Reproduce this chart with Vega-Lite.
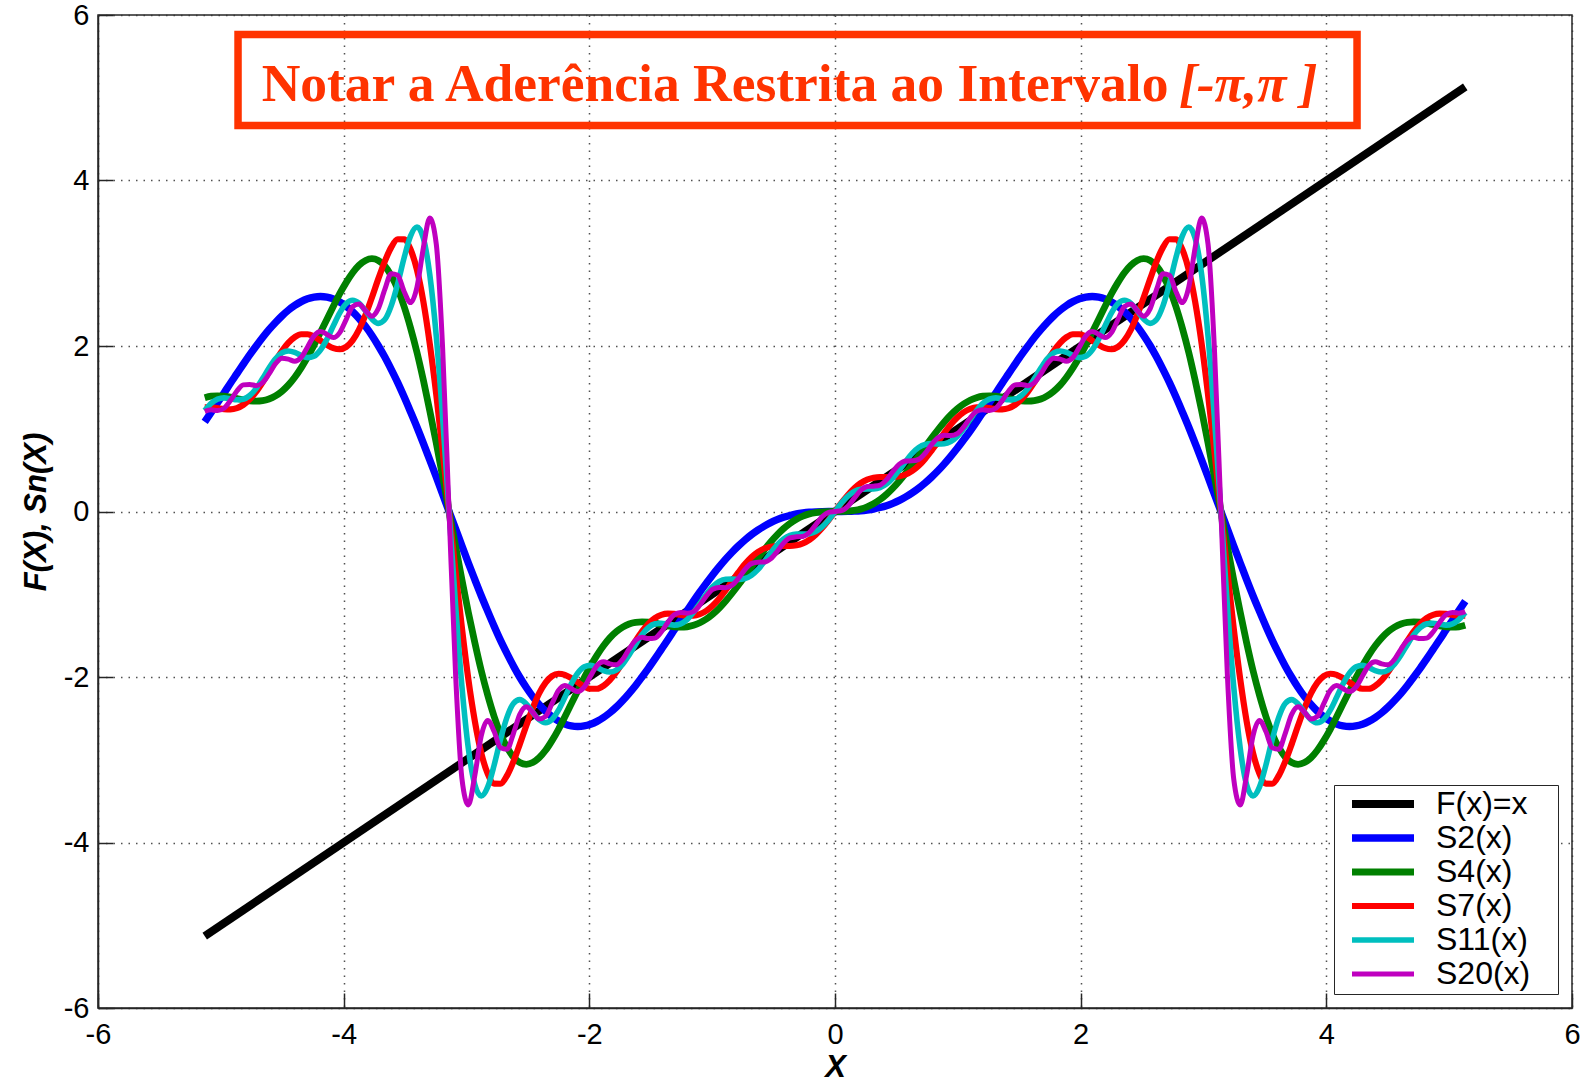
{
"$schema":"https://vega.github.io/schema/vega-lite/v6.json",
"width":1474,"height":993,
"autosize":{"type":"none"},
"padding":{"left":98,"top":15,"right":9,"bottom":75},
"background":"#ffffff",
"config":{
"view":{"stroke":"#262626","strokeWidth":1.5},
"axis":{"labelFont":"Liberation Sans","labelFontSize":29,"labelColor":"#000000","titleFont":"Liberation Sans","titleFontSize":31,"titleFontStyle":"italic","titleFontWeight":"bold","titleColor":"#000000","domainColor":"#262626","domainWidth":1.5,"tickColor":"#262626","tickWidth":1.5,"tickSize":-15,"gridColor":"#333333","gridDash":[1.5,6],"gridWidth":1.5,"gridOpacity":0.85,"labelFlush":false,"labelOverlap":false},
"legend":{"orient":"bottom-right","offset":14,"padding":4,"strokeColor":"#262626","fillColor":"#ffffff","symbolType":"stroke","symbolSize":3844,"labelFont":"Liberation Sans","labelFontSize":32,"labelColor":"#000000","clipHeight":30,"rowPadding":2,"symbolOffset":10,"labelOffset":18}
},
"datasets":{
"f":[{"series":"F","x":-5.131,"y":-5.131},{"series":"F","x":5.131,"y":5.131}],
"s":[
{"x":-5.131,"S2":1.084,"S4":1.375,"S7":1.259,"S11":1.219,"S20":1.21},
{"x":-5.079,"S2":1.198,"S4":1.393,"S7":1.259,"S11":1.306,"S20":1.229},
{"x":-5.027,"S2":1.314,"S4":1.398,"S7":1.249,"S11":1.357,"S20":1.22},
{"x":-4.974,"S2":1.432,"S4":1.393,"S7":1.238,"S11":1.373,"S20":1.248},
{"x":-4.922,"S2":1.55,"S4":1.382,"S7":1.235,"S11":1.363,"S20":1.34},
{"x":-4.869,"S2":1.666,"S4":1.366,"S7":1.25,"S11":1.351,"S20":1.456},
{"x":-4.817,"S2":1.781,"S4":1.35,"S7":1.289,"S11":1.358,"S20":1.53},
{"x":-4.765,"S2":1.893,"S4":1.338,"S7":1.355,"S11":1.402,"S20":1.536},
{"x":-4.712,"S2":2.0,"S4":1.333,"S7":1.448,"S11":1.488,"S20":1.521},
{"x":-4.66,"S2":2.102,"S4":1.339,"S7":1.562,"S11":1.606,"S20":1.556},
{"x":-4.608,"S2":2.197,"S4":1.359,"S7":1.689,"S11":1.734,"S20":1.662},
{"x":-4.555,"S2":2.284,"S4":1.397,"S7":1.819,"S11":1.845,"S20":1.786},
{"x":-4.503,"S2":2.363,"S4":1.452,"S7":1.939,"S11":1.917,"S20":1.852},
{"x":-4.451,"S2":2.432,"S4":1.527,"S7":2.038,"S11":1.94,"S20":1.841},
{"x":-4.398,"S2":2.49,"S4":1.623,"S7":2.107,"S11":1.922,"S20":1.817},
{"x":-4.346,"S2":2.536,"S4":1.736,"S7":2.142,"S11":1.885,"S20":1.861},
{"x":-4.294,"S2":2.57,"S4":1.867,"S7":2.142,"S11":1.86,"S20":1.988},
{"x":-4.241,"S2":2.591,"S4":2.011,"S7":2.114,"S11":1.877,"S20":2.123},
{"x":-4.189,"S2":2.598,"S4":2.165,"S7":2.066,"S11":1.952,"S20":2.176},
{"x":-4.136,"S2":2.591,"S4":2.324,"S7":2.014,"S11":2.083,"S20":2.14},
{"x":-4.084,"S2":2.569,"S4":2.481,"S7":1.974,"S11":2.245,"S20":2.102},
{"x":-4.032,"S2":2.532,"S4":2.632,"S7":1.961,"S11":2.401,"S20":2.162},
{"x":-3.979,"S2":2.481,"S4":2.769,"S7":1.989,"S11":2.513,"S20":2.323},
{"x":-3.927,"S2":2.414,"S4":2.886,"S7":2.068,"S11":2.552,"S20":2.476},
{"x":-3.875,"S2":2.333,"S4":2.976,"S7":2.198,"S11":2.516,"S20":2.508},
{"x":-3.822,"S2":2.237,"S4":3.034,"S7":2.376,"S11":2.425,"S20":2.425},
{"x":-3.77,"S2":2.127,"S4":3.055,"S7":2.587,"S11":2.326,"S20":2.361},
{"x":-3.718,"S2":2.003,"S4":3.033,"S7":2.811,"S11":2.274,"S20":2.452},
{"x":-3.665,"S2":1.866,"S4":2.966,"S7":3.023,"S11":2.32,"S20":2.683},
{"x":-3.613,"S2":1.717,"S4":2.851,"S7":3.192,"S11":2.485,"S20":2.874},
{"x":-3.56,"S2":1.557,"S4":2.688,"S7":3.29,"S11":2.753,"S20":2.856},
{"x":-3.508,"S2":1.386,"S4":2.477,"S7":3.289,"S11":3.065,"S20":2.658},
{"x":-3.456,"S2":1.206,"S4":2.221,"S7":3.169,"S11":3.328,"S20":2.525},
{"x":-3.403,"S2":1.018,"S4":1.922,"S7":2.918,"S11":3.438,"S20":2.712},
{"x":-3.351,"S2":0.823,"S4":1.586,"S7":2.534,"S11":3.302,"S20":3.188},
{"x":-3.299,"S2":0.622,"S4":1.218,"S7":2.026,"S11":2.862,"S20":3.546},
{"x":-3.246,"S2":0.417,"S4":0.826,"S7":1.413,"S11":2.118,"S20":3.231},
{"x":-3.194,"S2":0.209,"S4":0.418,"S7":0.726,"S11":1.128,"S20":1.962},
{"x":-3.142,"S2":0,"S4":0,"S7":0,"S11":0,"S20":0},
{"x":-3.089,"S2":-0.209,"S4":-0.418,"S7":-0.726,"S11":-1.128,"S20":-1.962},
{"x":-3.037,"S2":-0.417,"S4":-0.826,"S7":-1.413,"S11":-2.118,"S20":-3.231},
{"x":-2.985,"S2":-0.622,"S4":-1.218,"S7":-2.026,"S11":-2.862,"S20":-3.546},
{"x":-2.932,"S2":-0.823,"S4":-1.586,"S7":-2.534,"S11":-3.302,"S20":-3.188},
{"x":-2.88,"S2":-1.018,"S4":-1.922,"S7":-2.918,"S11":-3.438,"S20":-2.712},
{"x":-2.827,"S2":-1.206,"S4":-2.221,"S7":-3.169,"S11":-3.328,"S20":-2.525},
{"x":-2.775,"S2":-1.386,"S4":-2.477,"S7":-3.289,"S11":-3.065,"S20":-2.658},
{"x":-2.723,"S2":-1.557,"S4":-2.688,"S7":-3.29,"S11":-2.753,"S20":-2.856},
{"x":-2.67,"S2":-1.717,"S4":-2.851,"S7":-3.192,"S11":-2.485,"S20":-2.874},
{"x":-2.618,"S2":-1.866,"S4":-2.966,"S7":-3.023,"S11":-2.32,"S20":-2.683},
{"x":-2.566,"S2":-2.003,"S4":-3.033,"S7":-2.811,"S11":-2.274,"S20":-2.452},
{"x":-2.513,"S2":-2.127,"S4":-3.055,"S7":-2.587,"S11":-2.326,"S20":-2.361},
{"x":-2.461,"S2":-2.237,"S4":-3.034,"S7":-2.376,"S11":-2.425,"S20":-2.425},
{"x":-2.409,"S2":-2.333,"S4":-2.976,"S7":-2.198,"S11":-2.516,"S20":-2.508},
{"x":-2.356,"S2":-2.414,"S4":-2.886,"S7":-2.068,"S11":-2.552,"S20":-2.476},
{"x":-2.304,"S2":-2.481,"S4":-2.769,"S7":-1.989,"S11":-2.513,"S20":-2.323},
{"x":-2.251,"S2":-2.532,"S4":-2.632,"S7":-1.961,"S11":-2.401,"S20":-2.162},
{"x":-2.199,"S2":-2.569,"S4":-2.481,"S7":-1.974,"S11":-2.245,"S20":-2.102},
{"x":-2.147,"S2":-2.591,"S4":-2.324,"S7":-2.014,"S11":-2.083,"S20":-2.14},
{"x":-2.094,"S2":-2.598,"S4":-2.165,"S7":-2.066,"S11":-1.952,"S20":-2.176},
{"x":-2.042,"S2":-2.591,"S4":-2.011,"S7":-2.114,"S11":-1.877,"S20":-2.123},
{"x":-1.99,"S2":-2.57,"S4":-1.867,"S7":-2.142,"S11":-1.86,"S20":-1.988},
{"x":-1.937,"S2":-2.536,"S4":-1.736,"S7":-2.142,"S11":-1.885,"S20":-1.861},
{"x":-1.885,"S2":-2.49,"S4":-1.623,"S7":-2.107,"S11":-1.922,"S20":-1.817},
{"x":-1.833,"S2":-2.432,"S4":-1.527,"S7":-2.038,"S11":-1.94,"S20":-1.841},
{"x":-1.78,"S2":-2.363,"S4":-1.452,"S7":-1.939,"S11":-1.917,"S20":-1.852},
{"x":-1.728,"S2":-2.284,"S4":-1.397,"S7":-1.819,"S11":-1.845,"S20":-1.786},
{"x":-1.676,"S2":-2.197,"S4":-1.359,"S7":-1.689,"S11":-1.734,"S20":-1.662},
{"x":-1.623,"S2":-2.102,"S4":-1.339,"S7":-1.562,"S11":-1.606,"S20":-1.556},
{"x":-1.571,"S2":-2.0,"S4":-1.333,"S7":-1.448,"S11":-1.488,"S20":-1.521},
{"x":-1.518,"S2":-1.893,"S4":-1.338,"S7":-1.355,"S11":-1.402,"S20":-1.536},
{"x":-1.466,"S2":-1.781,"S4":-1.35,"S7":-1.289,"S11":-1.358,"S20":-1.53},
{"x":-1.414,"S2":-1.666,"S4":-1.366,"S7":-1.25,"S11":-1.351,"S20":-1.456},
{"x":-1.361,"S2":-1.55,"S4":-1.382,"S7":-1.235,"S11":-1.363,"S20":-1.34},
{"x":-1.309,"S2":-1.432,"S4":-1.393,"S7":-1.238,"S11":-1.373,"S20":-1.248},
{"x":-1.257,"S2":-1.314,"S4":-1.398,"S7":-1.249,"S11":-1.357,"S20":-1.22},
{"x":-1.204,"S2":-1.198,"S4":-1.393,"S7":-1.259,"S11":-1.306,"S20":-1.229},
{"x":-1.152,"S2":-1.084,"S4":-1.375,"S7":-1.259,"S11":-1.219,"S20":-1.21},
{"x":-1.1,"S2":-0.973,"S4":-1.344,"S7":-1.241,"S11":-1.11,"S20":-1.13},
{"x":-1.047,"S2":-0.866,"S4":-1.299,"S7":-1.2,"S11":-0.999,"S20":-1.02},
{"x":-0.995,"S2":-0.764,"S4":-1.24,"S7":-1.136,"S11":-0.907,"S20":-0.939},
{"x":-0.942,"S2":-0.667,"S4":-1.167,"S7":-1.051,"S11":-0.846,"S20":-0.917},
{"x":-0.89,"S2":-0.576,"S4":-1.082,"S7":-0.951,"S11":-0.819,"S20":-0.92},
{"x":-0.838,"S2":-0.492,"S4":-0.988,"S7":-0.842,"S11":-0.816,"S20":-0.891},
{"x":-0.785,"S2":-0.414,"S4":-0.886,"S7":-0.734,"S11":-0.82,"S20":-0.806},
{"x":-0.733,"S2":-0.344,"S4":-0.779,"S7":-0.635,"S11":-0.81,"S20":-0.701},
{"x":-0.681,"S2":-0.281,"S4":-0.671,"S7":-0.552,"S11":-0.773,"S20":-0.63},
{"x":-0.628,"S2":-0.225,"S4":-0.565,"S7":-0.489,"S11":-0.703,"S20":-0.612},
{"x":-0.576,"S2":-0.176,"S4":-0.463,"S7":-0.447,"S11":-0.607,"S20":-0.611},
{"x":-0.524,"S2":-0.134,"S4":-0.368,"S7":-0.425,"S11":-0.501,"S20":-0.572},
{"x":-0.471,"S2":-0.099,"S4":-0.282,"S7":-0.417,"S11":-0.404,"S20":-0.483},
{"x":-0.419,"S2":-0.07,"S4":-0.207,"S7":-0.417,"S11":-0.331,"S20":-0.382},
{"x":-0.367,"S2":-0.048,"S4":-0.144,"S7":-0.417,"S11":-0.289,"S20":-0.32},
{"x":-0.314,"S2":-0.03,"S4":-0.094,"S7":-0.408,"S11":-0.274,"S20":-0.306},
{"x":-0.262,"S2":-0.018,"S4":-0.056,"S7":-0.385,"S11":-0.273,"S20":-0.301},
{"x":-0.209,"S2":-0.009,"S4":-0.029,"S7":-0.343,"S11":-0.268,"S20":-0.254},
{"x":-0.157,"S2":-0.004,"S4":-0.013,"S7":-0.28,"S11":-0.242,"S20":-0.161},
{"x":-0.105,"S2":-0.001,"S4":-0.004,"S7":-0.199,"S11":-0.186,"S20":-0.064},
{"x":-0.052,"S2":0,"S4":-0.001,"S7":-0.103,"S11":-0.102,"S20":-0.01},
{"x":0,"S2":0,"S4":0,"S7":0,"S11":0,"S20":0},
{"x":0.052,"S2":0,"S4":0.001,"S7":0.103,"S11":0.102,"S20":0.01},
{"x":0.105,"S2":0.001,"S4":0.004,"S7":0.199,"S11":0.186,"S20":0.064},
{"x":0.157,"S2":0.004,"S4":0.013,"S7":0.28,"S11":0.242,"S20":0.161},
{"x":0.209,"S2":0.009,"S4":0.029,"S7":0.343,"S11":0.268,"S20":0.254},
{"x":0.262,"S2":0.018,"S4":0.056,"S7":0.385,"S11":0.273,"S20":0.301},
{"x":0.314,"S2":0.03,"S4":0.094,"S7":0.408,"S11":0.274,"S20":0.306},
{"x":0.367,"S2":0.048,"S4":0.144,"S7":0.417,"S11":0.289,"S20":0.32},
{"x":0.419,"S2":0.07,"S4":0.207,"S7":0.417,"S11":0.331,"S20":0.382},
{"x":0.471,"S2":0.099,"S4":0.282,"S7":0.417,"S11":0.404,"S20":0.483},
{"x":0.524,"S2":0.134,"S4":0.368,"S7":0.425,"S11":0.501,"S20":0.572},
{"x":0.576,"S2":0.176,"S4":0.463,"S7":0.447,"S11":0.607,"S20":0.611},
{"x":0.628,"S2":0.225,"S4":0.565,"S7":0.489,"S11":0.703,"S20":0.612},
{"x":0.681,"S2":0.281,"S4":0.671,"S7":0.552,"S11":0.773,"S20":0.63},
{"x":0.733,"S2":0.344,"S4":0.779,"S7":0.635,"S11":0.81,"S20":0.701},
{"x":0.785,"S2":0.414,"S4":0.886,"S7":0.734,"S11":0.82,"S20":0.806},
{"x":0.838,"S2":0.492,"S4":0.988,"S7":0.842,"S11":0.816,"S20":0.891},
{"x":0.89,"S2":0.576,"S4":1.082,"S7":0.951,"S11":0.819,"S20":0.92},
{"x":0.942,"S2":0.667,"S4":1.167,"S7":1.051,"S11":0.846,"S20":0.917},
{"x":0.995,"S2":0.764,"S4":1.24,"S7":1.136,"S11":0.907,"S20":0.939},
{"x":1.047,"S2":0.866,"S4":1.299,"S7":1.2,"S11":0.999,"S20":1.02},
{"x":1.1,"S2":0.973,"S4":1.344,"S7":1.241,"S11":1.11,"S20":1.13},
{"x":1.152,"S2":1.084,"S4":1.375,"S7":1.259,"S11":1.219,"S20":1.21},
{"x":1.204,"S2":1.198,"S4":1.393,"S7":1.259,"S11":1.306,"S20":1.229},
{"x":1.257,"S2":1.314,"S4":1.398,"S7":1.249,"S11":1.357,"S20":1.22},
{"x":1.309,"S2":1.432,"S4":1.393,"S7":1.238,"S11":1.373,"S20":1.248},
{"x":1.361,"S2":1.55,"S4":1.382,"S7":1.235,"S11":1.363,"S20":1.34},
{"x":1.414,"S2":1.666,"S4":1.366,"S7":1.25,"S11":1.351,"S20":1.456},
{"x":1.466,"S2":1.781,"S4":1.35,"S7":1.289,"S11":1.358,"S20":1.53},
{"x":1.518,"S2":1.893,"S4":1.338,"S7":1.355,"S11":1.402,"S20":1.536},
{"x":1.571,"S2":2.0,"S4":1.333,"S7":1.448,"S11":1.488,"S20":1.521},
{"x":1.623,"S2":2.102,"S4":1.339,"S7":1.562,"S11":1.606,"S20":1.556},
{"x":1.676,"S2":2.197,"S4":1.359,"S7":1.689,"S11":1.734,"S20":1.662},
{"x":1.728,"S2":2.284,"S4":1.397,"S7":1.819,"S11":1.845,"S20":1.786},
{"x":1.78,"S2":2.363,"S4":1.452,"S7":1.939,"S11":1.917,"S20":1.852},
{"x":1.833,"S2":2.432,"S4":1.527,"S7":2.038,"S11":1.94,"S20":1.841},
{"x":1.885,"S2":2.49,"S4":1.623,"S7":2.107,"S11":1.922,"S20":1.817},
{"x":1.937,"S2":2.536,"S4":1.736,"S7":2.142,"S11":1.885,"S20":1.861},
{"x":1.99,"S2":2.57,"S4":1.867,"S7":2.142,"S11":1.86,"S20":1.988},
{"x":2.042,"S2":2.591,"S4":2.011,"S7":2.114,"S11":1.877,"S20":2.123},
{"x":2.094,"S2":2.598,"S4":2.165,"S7":2.066,"S11":1.952,"S20":2.176},
{"x":2.147,"S2":2.591,"S4":2.324,"S7":2.014,"S11":2.083,"S20":2.14},
{"x":2.199,"S2":2.569,"S4":2.481,"S7":1.974,"S11":2.245,"S20":2.102},
{"x":2.251,"S2":2.532,"S4":2.632,"S7":1.961,"S11":2.401,"S20":2.162},
{"x":2.304,"S2":2.481,"S4":2.769,"S7":1.989,"S11":2.513,"S20":2.323},
{"x":2.356,"S2":2.414,"S4":2.886,"S7":2.068,"S11":2.552,"S20":2.476},
{"x":2.409,"S2":2.333,"S4":2.976,"S7":2.198,"S11":2.516,"S20":2.508},
{"x":2.461,"S2":2.237,"S4":3.034,"S7":2.376,"S11":2.425,"S20":2.425},
{"x":2.513,"S2":2.127,"S4":3.055,"S7":2.587,"S11":2.326,"S20":2.361},
{"x":2.566,"S2":2.003,"S4":3.033,"S7":2.811,"S11":2.274,"S20":2.452},
{"x":2.618,"S2":1.866,"S4":2.966,"S7":3.023,"S11":2.32,"S20":2.683},
{"x":2.67,"S2":1.717,"S4":2.851,"S7":3.192,"S11":2.485,"S20":2.874},
{"x":2.723,"S2":1.557,"S4":2.688,"S7":3.29,"S11":2.753,"S20":2.856},
{"x":2.775,"S2":1.386,"S4":2.477,"S7":3.289,"S11":3.065,"S20":2.658},
{"x":2.827,"S2":1.206,"S4":2.221,"S7":3.169,"S11":3.328,"S20":2.525},
{"x":2.88,"S2":1.018,"S4":1.922,"S7":2.918,"S11":3.438,"S20":2.712},
{"x":2.932,"S2":0.823,"S4":1.586,"S7":2.534,"S11":3.302,"S20":3.188},
{"x":2.985,"S2":0.622,"S4":1.218,"S7":2.026,"S11":2.862,"S20":3.546},
{"x":3.037,"S2":0.417,"S4":0.826,"S7":1.413,"S11":2.118,"S20":3.231},
{"x":3.089,"S2":0.209,"S4":0.418,"S7":0.726,"S11":1.128,"S20":1.962},
{"x":3.142,"S2":0,"S4":0,"S7":0,"S11":0,"S20":0},
{"x":3.194,"S2":-0.209,"S4":-0.418,"S7":-0.726,"S11":-1.128,"S20":-1.962},
{"x":3.246,"S2":-0.417,"S4":-0.826,"S7":-1.413,"S11":-2.118,"S20":-3.231},
{"x":3.299,"S2":-0.622,"S4":-1.218,"S7":-2.026,"S11":-2.862,"S20":-3.546},
{"x":3.351,"S2":-0.823,"S4":-1.586,"S7":-2.534,"S11":-3.302,"S20":-3.188},
{"x":3.403,"S2":-1.018,"S4":-1.922,"S7":-2.918,"S11":-3.438,"S20":-2.712},
{"x":3.456,"S2":-1.206,"S4":-2.221,"S7":-3.169,"S11":-3.328,"S20":-2.525},
{"x":3.508,"S2":-1.386,"S4":-2.477,"S7":-3.289,"S11":-3.065,"S20":-2.658},
{"x":3.56,"S2":-1.557,"S4":-2.688,"S7":-3.29,"S11":-2.753,"S20":-2.856},
{"x":3.613,"S2":-1.717,"S4":-2.851,"S7":-3.192,"S11":-2.485,"S20":-2.874},
{"x":3.665,"S2":-1.866,"S4":-2.966,"S7":-3.023,"S11":-2.32,"S20":-2.683},
{"x":3.718,"S2":-2.003,"S4":-3.033,"S7":-2.811,"S11":-2.274,"S20":-2.452},
{"x":3.77,"S2":-2.127,"S4":-3.055,"S7":-2.587,"S11":-2.326,"S20":-2.361},
{"x":3.822,"S2":-2.237,"S4":-3.034,"S7":-2.376,"S11":-2.425,"S20":-2.425},
{"x":3.875,"S2":-2.333,"S4":-2.976,"S7":-2.198,"S11":-2.516,"S20":-2.508},
{"x":3.927,"S2":-2.414,"S4":-2.886,"S7":-2.068,"S11":-2.552,"S20":-2.476},
{"x":3.979,"S2":-2.481,"S4":-2.769,"S7":-1.989,"S11":-2.513,"S20":-2.323},
{"x":4.032,"S2":-2.532,"S4":-2.632,"S7":-1.961,"S11":-2.401,"S20":-2.162},
{"x":4.084,"S2":-2.569,"S4":-2.481,"S7":-1.974,"S11":-2.245,"S20":-2.102},
{"x":4.136,"S2":-2.591,"S4":-2.324,"S7":-2.014,"S11":-2.083,"S20":-2.14},
{"x":4.189,"S2":-2.598,"S4":-2.165,"S7":-2.066,"S11":-1.952,"S20":-2.176},
{"x":4.241,"S2":-2.591,"S4":-2.011,"S7":-2.114,"S11":-1.877,"S20":-2.123},
{"x":4.294,"S2":-2.57,"S4":-1.867,"S7":-2.142,"S11":-1.86,"S20":-1.988},
{"x":4.346,"S2":-2.536,"S4":-1.736,"S7":-2.142,"S11":-1.885,"S20":-1.861},
{"x":4.398,"S2":-2.49,"S4":-1.623,"S7":-2.107,"S11":-1.922,"S20":-1.817},
{"x":4.451,"S2":-2.432,"S4":-1.527,"S7":-2.038,"S11":-1.94,"S20":-1.841},
{"x":4.503,"S2":-2.363,"S4":-1.452,"S7":-1.939,"S11":-1.917,"S20":-1.852},
{"x":4.555,"S2":-2.284,"S4":-1.397,"S7":-1.819,"S11":-1.845,"S20":-1.786},
{"x":4.608,"S2":-2.197,"S4":-1.359,"S7":-1.689,"S11":-1.734,"S20":-1.662},
{"x":4.66,"S2":-2.102,"S4":-1.339,"S7":-1.562,"S11":-1.606,"S20":-1.556},
{"x":4.712,"S2":-2.0,"S4":-1.333,"S7":-1.448,"S11":-1.488,"S20":-1.521},
{"x":4.765,"S2":-1.893,"S4":-1.338,"S7":-1.355,"S11":-1.402,"S20":-1.536},
{"x":4.817,"S2":-1.781,"S4":-1.35,"S7":-1.289,"S11":-1.358,"S20":-1.53},
{"x":4.869,"S2":-1.666,"S4":-1.366,"S7":-1.25,"S11":-1.351,"S20":-1.456},
{"x":4.922,"S2":-1.55,"S4":-1.382,"S7":-1.235,"S11":-1.363,"S20":-1.34},
{"x":4.974,"S2":-1.432,"S4":-1.393,"S7":-1.238,"S11":-1.373,"S20":-1.248},
{"x":5.027,"S2":-1.314,"S4":-1.398,"S7":-1.249,"S11":-1.357,"S20":-1.22},
{"x":5.079,"S2":-1.198,"S4":-1.393,"S7":-1.259,"S11":-1.306,"S20":-1.229},
{"x":5.131,"S2":-1.084,"S4":-1.375,"S7":-1.259,"S11":-1.219,"S20":-1.21}
]
},
"layer":[
{
"data":{"name":"f"},
"mark":{"type":"line","strokeCap":"butt"},
"encoding":{
"x":{"field":"x","type":"quantitative","scale":{"domain":[-6,6],"nice":false,"zero":false},"axis":{"orient":"bottom","values":[-6,-4,-2,0,2,4,6],"title":"X","labelExpr":"'' + datum.value","labelPadding":27,"titlePadding":3,"grid":true}},
"y":{"field":"y","type":"quantitative","scale":{"domain":[-6,6],"nice":false,"zero":false},"axis":{"orient":"left","values":[-6,-4,-2,0,2,4,6],"title":"F(X), Sn(X)","labelExpr":"'' + datum.value","labelPadding":24,"titlePadding":11,"grid":true}},
"color":{"field":"series","type":"nominal","scale":{"domain":["F","S2","S4","S7","S11","S20"],"range":["#000000","#0000ff","#008000","#ff0000","#00bfbf","#bf00bf"]},"legend":{"title":null,"labelExpr":"(datum.label == 'F' ? 'F(x)=x' : datum.label + '(x)') + '\u2800'"}},
"strokeWidth":{"field":"series","type":"nominal","scale":{"domain":["F","S2","S4","S7","S11","S20"],"range":[8,5,5,5,5,5]},"legend":{"title":null,"labelExpr":"(datum.label == 'F' ? 'F(x)=x' : datum.label + '(x)') + '\u2800'"}}
}
},
{
"data":{"name":"s"},
"transform":[{"fold":["S2","S4","S7","S11","S20"],"as":["series","y"]}],
"mark":{"type":"line","interpolate":"monotone","strokeJoin":"round"},
"encoding":{
"x":{"field":"x","type":"quantitative","scale":{"domain":[-6,6],"nice":false,"zero":false}},
"y":{"field":"y","type":"quantitative","scale":{"domain":[-6,6],"nice":false,"zero":false}},
"color":{"field":"series","type":"nominal","scale":{"domain":["F","S2","S4","S7","S11","S20"],"range":["#000000","#0000ff","#008000","#ff0000","#00bfbf","#bf00bf"]},"legend":{"title":null,"labelExpr":"(datum.label == 'F' ? 'F(x)=x' : datum.label + '(x)') + '\u2800'"}},
"strokeWidth":{"field":"series","type":"nominal","scale":{"domain":["F","S2","S4","S7","S11","S20"],"range":[8,5,5,5,5,5]},"legend":{"title":null,"labelExpr":"(datum.label == 'F' ? 'F(x)=x' : datum.label + '(x)') + '\u2800'"}}
}
},
{
"data":{"values":[{"note":"box"}]},
"mark":{"type":"rect","fill":"transparent","stroke":"#ff3300","strokeWidth":7.5},
"encoding":{
"x":{"datum":-4.86,"type":"quantitative"},
"x2":{"datum":4.25},
"y":{"datum":5.764,"type":"quantitative"},
"y2":{"datum":4.665}
}
},
{
"data":{"values":[{"note":"text"}]},
"mark":{"type":"text","text":"Notar a Aderência Restrita ao Intervalo","font":"Liberation Serif","fontWeight":"bold","fontSize":53.5,"color":"#ff3300","align":"right","baseline":"alphabetic"},
"encoding":{
"x":{"datum":2.715,"type":"quantitative"},
"y":{"datum":4.961,"type":"quantitative"}
}
},
{
"data":{"values":[{"note":"interval"}]},
"mark":{"type":"text","text":"[-π,π ]","font":"Liberation Serif","fontWeight":"bold","fontStyle":"italic","fontSize":53.5,"color":"#ff3300","align":"left","baseline":"alphabetic"},
"encoding":{
"x":{"datum":2.8,"type":"quantitative"},
"y":{"datum":4.961,"type":"quantitative"}
}
}
]
}
